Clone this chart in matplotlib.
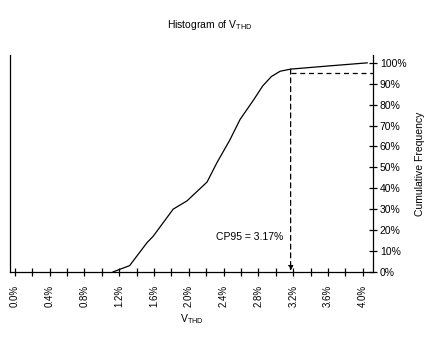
import matplotlib
matplotlib.use("Agg")
import matplotlib.pyplot as plt
import numpy as np

plt.rcParams['font.family'] = ['Liberation Sans', 'DejaVu Sans']
plt.rcParams['mathtext.default'] = 'regular'

# cumulative frequency curve (x in %, y in %)
thd = [1.13, 1.32, 1.52, 1.59, 1.82, 1.98, 2.21, 2.32, 2.47, 2.59, 2.74, 2.85, 2.95, 3.05, 3.17, 3.60, 4.05]
cum = [0, 3, 14, 17, 30, 34, 43, 52, 63, 73, 82, 89, 93.5, 96, 97, 98.5, 100]

x_ticks = [0.0, 0.4, 0.8, 1.2, 1.6, 2.0, 2.4, 2.8, 3.2, 3.6, 4.0]
x_labels = ['0.0%', '0.4%', '0.8%', '1.2%', '1.6%', '2.0%', '2.4%', '2.8%', '3.2%', '3.6%', '4.0%']
y_ticks = [0, 10, 20, 30, 40, 50, 60, 70, 80, 90, 100]
y_labels = ['0%', '10%', '20%', '30%', '40%', '50%', '60%', '70%', '80%', '90%', '100%']

cp95 = 3.17
cp_level = 95

fig = plt.figure(figsize=(4.46, 3.39), dpi=100)
ax = fig.add_axes([0.022, 0.198, 0.814, 0.64])

ax.plot(thd, cum, color='black', lw=0.9)

# CP95 marker lines
ax.plot([cp95, 4.115], [cp_level, cp_level], color='black', lw=0.9, ls=(0, (4, 3)))
ax.annotate('', xy=(cp95, 0.5), xytext=(cp95, np.interp(cp95, thd, cum)),
            arrowprops=dict(arrowstyle='-|>', color='black', lw=0.9, ls=(0, (4, 3)),
                            mutation_scale=7, shrinkA=0, shrinkB=0))
ax.text(cp95 - 0.08, 16.5, 'CP95 = 3.17%', ha='right', va='center', fontsize=7.5)

ax.set_xlim(-0.057, 4.115)
ax.set_ylim(0, 103.8)

ax.set_xticks(x_ticks)
ax.set_xticklabels(x_labels, rotation=90, fontsize=7)
ax.set_xticks(np.arange(0.2, 4.0, 0.4), minor=True)
ax.tick_params(axis='x', which='both', direction='inout', length=6, width=0.9, pad=6)

ax.yaxis.tick_right()
ax.yaxis.set_label_position('right')
ax.set_yticks(y_ticks)
ax.set_yticklabels(y_labels, fontsize=7.5)
ax.tick_params(axis='y', direction='inout', length=6, width=0.9, pad=2)
ax.set_ylabel('Cumulative Frequency', fontsize=7.5, labelpad=6)

ax.spines['top'].set_visible(False)
for s in ['left', 'right', 'bottom']:
    ax.spines[s].set_linewidth(0.9)

ax.set_xlabel('V$_{THD}$', fontsize=7.5, labelpad=4)
fig.text(210 / 446, 1 - 25 / 339, 'Histogram of V$_{THD}$', ha='center', va='center', fontsize=7.5)

fig.savefig('out.png', dpi=100)
